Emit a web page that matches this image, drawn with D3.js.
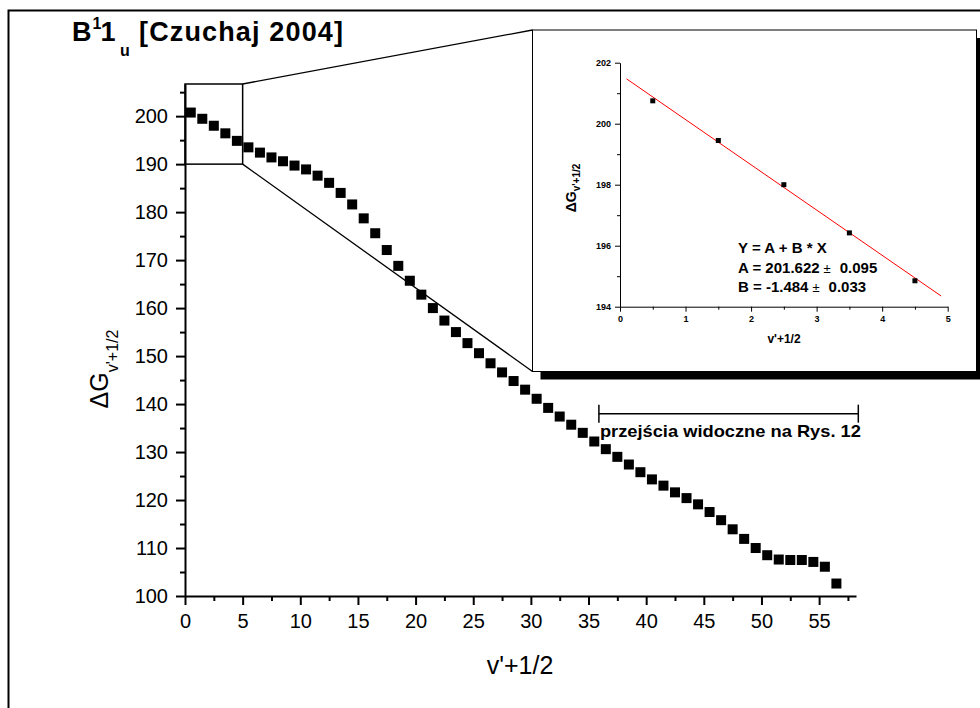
<!DOCTYPE html>
<html>
<head>
<meta charset="utf-8">
<script src="https://cdn.jsdelivr.net/npm/d3@7/dist/d3.min.js"></script>
<style>
  body { margin: 0; background: #fff; }
  svg { font-family: "Liberation Sans", Arial, sans-serif; display: block; }
</style>
</head>
<body>
<div id="chart"></div>
<script>
// v'+1/2 values (x) and vibrational spacings dG (y)
const vHalf = [0.5, 1.5, 2.5, 3.5, 4.5, 5.5, 6.5, 7.5, 8.5, 9.5,
  10.5, 11.5, 12.5, 13.5, 14.5, 15.5, 16.5, 17.5, 18.5, 19.5,
  20.5, 21.5, 22.5, 23.5, 24.5, 25.5, 26.5, 27.5, 28.5, 29.5,
  30.5, 31.5, 32.5, 33.5, 34.5, 35.5, 36.5, 37.5, 38.5, 39.5,
  40.5, 41.5, 42.5, 43.5, 44.5, 45.5, 46.5, 47.5, 48.5, 49.5,
  50.5, 51.5, 52.5, 53.5, 54.5, 55.5, 56.5];
const deltaG = [200.75, 199.45, 198.0, 196.42, 194.85, 193.5, 192.4, 191.4, 190.6, 189.7,
  188.9, 187.6, 186.1, 184.0, 181.6, 178.7, 175.6, 172.1, 168.8, 165.7,
  162.8, 160.0, 157.4, 155.0, 152.7, 150.6, 148.5, 146.6, 144.8, 143.0,
  141.1, 139.2, 137.4, 135.7, 134.0, 132.2, 130.6, 129.0, 127.4, 125.8,
  124.3, 123.0, 121.6, 120.4, 119.1, 117.5, 115.8, 113.9, 111.9, 110.0,
  108.5, 107.6, 107.5, 107.5, 107.1, 106.1, 102.6];

// inset: first five levels and the linear fit drawn through them
const insetX = [0.5, 1.5, 2.5, 3.5, 4.5];
const insetY = [200.75, 199.45, 198.0, 196.42, 194.85];
const fitX = [0.1, 4.9];
const fitY = [201.47, 194.35];
const fitText = ["Y = A + B * X", "A = 201.622", "B = -1.484"];
const fitErr = ["", "0.095", "0.033"];

// tick values
const mainXTicks = [0, 5, 10, 15, 20, 25, 30, 35, 40, 45, 50, 55];
const mainXMinor = [2.5, 7.5, 12.5, 17.5, 22.5, 27.5, 32.5, 37.5, 42.5, 47.5, 52.5, 57.5];
const mainYTicks = [100, 110, 120, 130, 140, 150, 160, 170, 180, 190, 200];
const mainYMinor = [105, 115, 125, 135, 145, 155, 165, 175, 185, 195, 205];
const insetXTicks = [0, 1, 2, 3, 4, 5];
const insetXMinor = [0.5, 1.5, 2.5, 3.5, 4.5];
const insetYTicks = [194, 196, 198, 200, 202];
const insetYMinor = [195, 197, 199, 201];

// zoom window and annotated range
const zoomX = [0, 5], zoomY = [190, 206.7];
const bracketX = [35.9, 58.4], bracketY = 138;

const W = 980, H = 708;
const svg = d3.select("#chart").append("svg")
  .attr("width", W)
  .attr("height", H);

// outer frame
svg.append("rect")
  .attr("x", 8.5).attr("y", 10.5)
  .attr("width", 1000).attr("height", 1000)
  .attr("fill", "#fff")
  .attr("stroke", "#000")
  .attr("stroke-width", 2);

// title
const title = svg.append("text")
  .attr("y", 41)
  .attr("font-size", 27)
  .attr("font-weight", "bold");
title.append("tspan").attr("x", 72).text("B");
title.append("tspan").attr("x", 92.5).attr("y", 29).attr("font-size", 16).text("1");
title.append("tspan").attr("x", 100.5).attr("y", 41).text("1");
title.append("tspan").attr("x", 120).attr("y", 56).attr("font-size", 16).text("u");
title.append("tspan").attr("x", 139).attr("y", 41)
  .attr("textLength", 204).attr("lengthAdjust", "spacing")
  .text("[Czuchaj 2004]");

// ---------- main plot ----------
const x = d3.scaleLinear().domain([0, 58.2]).range([185, 856]);
const y = d3.scaleLinear().domain([100, 206.7]).range([596, 84]);

const xAxis = svg.append("g")
  .attr("transform", `translate(0,${y(100)})`)
  .call(d3.axisBottom(x).tickValues(mainXTicks).tickSize(9).tickSizeOuter(0).tickPadding(9));
svg.append("g")
  .attr("transform", `translate(0,${y(100)})`)
  .call(d3.axisBottom(x).tickValues(mainXMinor).tickSize(5).tickSizeOuter(0).tickFormat(""))
  .select(".domain").remove();

const yAxis = svg.append("g")
  .attr("transform", `translate(${x(0)},0)`)
  .call(d3.axisLeft(y).tickValues(mainYTicks).tickSize(9).tickSizeOuter(0).tickPadding(8));
svg.append("g")
  .attr("transform", `translate(${x(0)},0)`)
  .call(d3.axisLeft(y).tickValues(mainYMinor).tickSize(5).tickSizeOuter(0).tickFormat(""))
  .select(".domain").remove();

svg.selectAll(".domain, .tick line").attr("stroke", "#000").attr("stroke-width", 2);
[xAxis, yAxis].forEach(a => a.selectAll("text")
  .attr("font-size", 20)
  .attr("fill", "#000")
  .attr("font-family", '"Liberation Sans", Arial, sans-serif'));

// axis titles
svg.append("text")
  .attr("x", 520).attr("y", 674)
  .attr("text-anchor", "middle")
  .attr("font-size", 25)
  .text("v'+1/2");

const yTitle = svg.append("text")
  .attr("transform", "translate(108,369) rotate(-90)")
  .attr("text-anchor", "middle")
  .attr("font-size", 25);
yTitle.append("tspan").text("\u0394G");
yTitle.append("tspan").attr("font-size", 16).attr("dy", 10).text("v'+1/2");

// zoom box
svg.append("rect")
  .attr("x", x(zoomX[0])).attr("y", y(zoomY[1]))
  .attr("width", x(zoomX[1]) - x(zoomX[0]))
  .attr("height", y(zoomY[0]) - y(zoomY[1]))
  .attr("fill", "none").attr("stroke", "#000").attr("stroke-width", 1.5);

// data points
svg.append("g").selectAll("rect")
  .data(vHalf.map((v, i) => [v, deltaG[i]]))
  .join("rect")
  .attr("x", d => x(d[0]) - 5)
  .attr("y", d => y(d[1]) - 5)
  .attr("width", 10).attr("height", 10)
  .attr("fill", "#000");

// annotation bracket
const br = svg.append("g").attr("stroke", "#000").attr("stroke-width", 1.5);
br.append("line")
  .attr("x1", x(bracketX[0])).attr("x2", x(bracketX[1]))
  .attr("y1", y(bracketY)).attr("y2", y(bracketY));
bracketX.forEach(b => br.append("line")
  .attr("x1", x(b)).attr("x2", x(b))
  .attr("y1", y(bracketY) - 9).attr("y2", y(bracketY) + 9));
svg.append("text")
  .attr("x", x(bracketX[0]) + 1).attr("y", 437)
  .attr("font-size", 17).attr("font-weight", "bold")
  .attr("textLength", 261).attr("lengthAdjust", "spacingAndGlyphs")
  .text("przejścia widoczne na Rys. 12");

// ---------- inset ----------
const ib = { x: 532.5, y: 30, w: 444, h: 341.5 };

// connectors from the zoom box to the inset
svg.append("line")
  .attr("x1", x(zoomX[1])).attr("y1", y(zoomY[1]))
  .attr("x2", ib.x).attr("y2", ib.y)
  .attr("stroke", "#000").attr("stroke-width", 1.3);
svg.append("line")
  .attr("x1", x(zoomX[1])).attr("y1", y(zoomY[0]))
  .attr("x2", ib.x).attr("y2", ib.y + ib.h)
  .attr("stroke", "#000").attr("stroke-width", 1.3);

svg.append("rect")
  .attr("x", ib.x + 8).attr("y", ib.y + 8)
  .attr("width", ib.w).attr("height", ib.h)
  .attr("fill", "#000");
svg.append("rect")
  .attr("x", ib.x).attr("y", ib.y)
  .attr("width", ib.w).attr("height", ib.h)
  .attr("fill", "#fff").attr("stroke", "#000").attr("stroke-width", 1);

const ix = d3.scaleLinear().domain([0, 5]).range([620, 947.7]);
const iy = d3.scaleLinear().domain([194, 202]).range([306.7, 62.7]);

const inset = svg.append("g");
const ixAxis = inset.append("g")
  .attr("transform", `translate(0,${iy(194)})`)
  .call(d3.axisBottom(ix).tickValues(insetXTicks).tickFormat(d3.format("d"))
    .tickSize(5).tickSizeOuter(0).tickPadding(4));
inset.append("g")
  .attr("transform", `translate(0,${iy(194)})`)
  .call(d3.axisBottom(ix).tickValues(insetXMinor).tickSize(3).tickSizeOuter(0).tickFormat(""))
  .select(".domain").remove();
const iyAxis = inset.append("g")
  .attr("transform", `translate(${ix(0)},0)`)
  .call(d3.axisLeft(iy).tickValues(insetYTicks).tickFormat(d3.format("d"))
    .tickSize(5).tickSizeOuter(0).tickPadding(4));
inset.append("g")
  .attr("transform", `translate(${ix(0)},0)`)
  .call(d3.axisLeft(iy).tickValues(insetYMinor).tickSize(3).tickSizeOuter(0).tickFormat(""))
  .select(".domain").remove();

inset.selectAll(".domain, .tick line").attr("stroke", "#000").attr("stroke-width", 1);
[ixAxis, iyAxis].forEach(a => a.selectAll("text")
  .attr("font-size", 9)
  .attr("font-weight", "bold")
  .attr("fill", "#000")
  .attr("font-family", '"Liberation Sans", Arial, sans-serif'));

inset.append("text")
  .attr("x", 784).attr("y", 343)
  .attr("text-anchor", "middle")
  .attr("font-size", 12).attr("font-weight", "bold")
  .text("v'+1/2");

const iyTitle = inset.append("text")
  .attr("transform", "translate(576,188) rotate(-90)")
  .attr("text-anchor", "middle")
  .attr("font-size", 14).attr("font-weight", "bold");
iyTitle.append("tspan").text("\u0394G");
iyTitle.append("tspan").attr("font-size", 10).attr("dy", 4).text("v'+1/2");

// fitted line
inset.append("path")
  .datum(fitX.map((v, i) => [v, fitY[i]]))
  .attr("fill", "none")
  .attr("stroke", "#ff0000")
  .attr("stroke-width", 1)
  .attr("d", d3.line().x(d => ix(d[0])).y(d => iy(d[1])));

inset.selectAll("rect.pt")
  .data(insetX.map((v, i) => [v, insetY[i]]))
  .join("rect")
  .attr("class", "pt")
  .attr("x", d => ix(d[0]) - 2.5)
  .attr("y", d => iy(d[1]) - 2.5)
  .attr("width", 5).attr("height", 5)
  .attr("fill", "#000");

// fit parameters
fitText.forEach((t, i) => {
  const tx = inset.append("text")
    .attr("x", 738).attr("y", 253 + i * 19.7)
    .attr("font-size", 15).attr("font-weight", "bold");
  tx.append("tspan").text(t);
  if (fitErr[i]) {
    tx.append("tspan").attr("dx", 4).attr("font-weight", "normal").attr("font-size", 13).text("\u00b1");
    tx.append("tspan").attr("dx", 9).text(fitErr[i]);
  }
});
</script>
</body>
</html>
